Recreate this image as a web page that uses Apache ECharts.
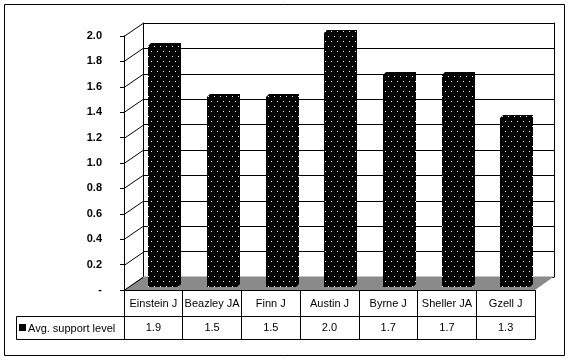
<!DOCTYPE html>
<html>
<head>
<meta charset="utf-8">
<script src="https://cdn.jsdelivr.net/npm/echarts@6/dist/echarts.min.js"></script>
<style>
html,body{margin:0;padding:0;background:#fff;}
#chart{width:571px;height:361px;}
</style>
</head>
<body>
<div id="chart"></div>
<script>
// ---- data ----
const categories = ['Einstein J', 'Beazley JA', 'Finn J', 'Austin J', 'Byrne J', 'Sheller JA', 'Gzell J'];
const supportLevel = [1.9, 1.5, 1.5, 2.0, 1.67, 1.67, 1.33];
const seriesName = 'Avg. support level';
const yTicks = [0, 0.2, 0.4, 0.6, 0.8, 1.0, 1.2, 1.4, 1.6, 1.8, 2.0];
const yMin = 0, yMax = 2.0, yStep = 0.2;

// ---- layout ----
const front = { left: 124, top: 36, width: 411, height: 254 };
const depth = { dx: 19, dy: -13 };
const back = { left: front.left + depth.dx, top: front.top + depth.dy, width: front.width, height: front.height };
const rowH = 25;           // category row height
const valRowH = 23;        // value row height
const legendLeft = 16;
const font = 'Liberation Sans, Arial, sans-serif';

// dotted pattern
const pc = document.createElement('canvas');
pc.width = 6; pc.height = 10;
const pctx = pc.getContext('2d');
pctx.fillStyle = '#000'; pctx.fillRect(0, 0, 6, 10);
pctx.fillStyle = '#fff'; pctx.fillRect(1, 1, 1, 1); pctx.fillRect(4, 6, 1, 1);
const pattern = { image: pc, repeat: 'repeat' };

const chart = echarts.init(document.getElementById('chart'), null, { renderer: 'canvas' });

function yFront(v) { return front.top + front.height * (1 - (v - yMin) / (yMax - yMin)); }

const fb = front.top + front.height;           // front floor edge y
const bb = back.top + back.height;             // back floor edge y
const tableTop = fb;
const valTop = fb + rowH + 1;
const valBottom = valTop + valRowH;
const fr = front.left + front.width;

const graphics = [];
// outer border
graphics.push({ type: 'rect', shape: { x: 4.5, y: 4.5, width: 560, height: 351 }, style: { fill: 'none', stroke: '#000', lineWidth: 1 }, z: 1 });
// floor
graphics.push({ type: 'polygon', shape: { points: [[front.left, fb], [fr, fb], [fr + depth.dx, bb - 0.5], [back.left, bb - 0.5]] }, style: { fill: '#8a8a8a', stroke: null }, z: 5 });
// diagonal gridline connectors
yTicks.forEach(v => {
  const y = Math.round(yFront(v)) + 0.5;
  graphics.push({ type: 'line', shape: { x1: front.left, y1: y, x2: back.left, y2: y + depth.dy }, style: { stroke: '#000', lineWidth: 1 }, z: 6 });
});
// data table lines
graphics.push({ type: 'line', shape: { x1: legendLeft + 0.5, y1: valTop + 0.5, x2: fr + 0.5, y2: valTop + 0.5 }, style: { stroke: '#000', lineWidth: 1 }, z: 6 });
graphics.push({ type: 'line', shape: { x1: legendLeft + 0.5, y1: valBottom + 0.5, x2: fr + 0.5, y2: valBottom + 0.5 }, style: { stroke: '#000', lineWidth: 1 }, z: 6 });
graphics.push({ type: 'line', shape: { x1: legendLeft + 0.5, y1: valTop + 0.5, x2: legendLeft + 0.5, y2: valBottom + 0.5 }, style: { stroke: '#000', lineWidth: 1 }, z: 6 });
// legend key
graphics.push({ type: 'rect', shape: { x: legendLeft + 3, y: valTop + 8, width: 7, height: 7 }, style: { fill: '#000' }, z: 6 });
graphics.push({ type: 'text', x: legendLeft + 12, y: valTop + valRowH / 2 + 1, style: { text: seriesName, font: '11px ' + font, fill: '#000', verticalAlign: 'middle', textAlign: 'left' }, z: 6 });

const option = {
  animation: false,
  backgroundColor: '#fff',
  grid: [
    { left: front.left, top: front.top, width: front.width, height: front.height },
    { left: back.left, top: back.top, width: back.width, height: back.height }
  ],
  xAxis: [
    {
      type: 'category', gridIndex: 0, data: categories, boundaryGap: true,
      axisLine: { show: true, lineStyle: { color: '#000', width: 1 } },
      axisTick: { show: true, alignWithLabel: false, inside: false, length: valBottom - fb, lineStyle: { color: '#000' } },
      axisLabel: { interval: 0, margin: 8, color: '#000', fontFamily: font, fontSize: 11 },
      splitLine: { show: false }, z: 6
    },
    {
      type: 'category', gridIndex: 0, data: categories, position: 'bottom', offset: rowH + 1,
      axisLine: { show: false }, axisTick: { show: false },
      axisLabel: { interval: 0, margin: 6, color: '#000', fontFamily: font, fontSize: 11,
        formatter: (val, idx) => supportLevel[idx].toFixed(1) },
      splitLine: { show: false }
    },
    { type: 'category', gridIndex: 1, data: categories, show: false }
  ],
  yAxis: [
    {
      type: 'value', gridIndex: 0, min: yMin, max: yMax, interval: yStep,
      axisLine: { show: true, lineStyle: { color: '#000' } },
      axisTick: { show: true, length: 4, lineStyle: { color: '#000' } },
      axisLabel: { margin: 22, color: '#000', fontFamily: font, fontSize: 11, fontWeight: 'bold',
        formatter: v => (v === 0 ? '-' : v.toFixed(1)) },
      splitLine: { show: false }, z: 6
    },
    {
      type: 'value', gridIndex: 1, min: yMin, max: yMax, interval: yStep,
      axisLine: { show: true, lineStyle: { color: '#000' } },
      axisTick: { show: false }, axisLabel: { show: false },
      splitLine: { show: true, lineStyle: { color: '#000', width: 1 } }
    },
    {
      type: 'value', gridIndex: 1, min: yMin, max: yMax, interval: yStep, position: 'right',
      axisLine: { show: true, lineStyle: { color: '#000' } },
      axisTick: { show: false }, axisLabel: { show: false }, splitLine: { show: false }
    }
  ],
  series: [
    {
      name: seriesName,
      type: 'custom',
      xAxisIndex: 0, yAxisIndex: 0,
      z: 10,
      data: supportLevel.map((v, i) => [i, v]),
      renderItem: function (params, api) {
        const i = api.value(0), v = api.value(1);
        const base = api.coord([i, 0]);
        const top = api.coord([i, v]);
        const bw = api.size([1, 0])[0];
        const xl = Math.round(base[0] - 0.09 * bw);
        const xr = Math.round(xl + 0.51 * bw);
        const yb = Math.round(base[1]) - 3;
        const yt = Math.round(top[1]) - 3;
        const d = 3;
        return {
          type: 'polygon',
          shape: { points: [[xl, yb], [xl, yt], [xl + d, yt - d], [xr + d, yt - d], [xr + d, yb - d], [xr, yb]] },
          style: { fill: pattern, stroke: null },
          z2: 10
        };
      }
    }
  ],
  graphic: { elements: graphics }
};
chart.setOption(option);
</script>
</body>
</html>
